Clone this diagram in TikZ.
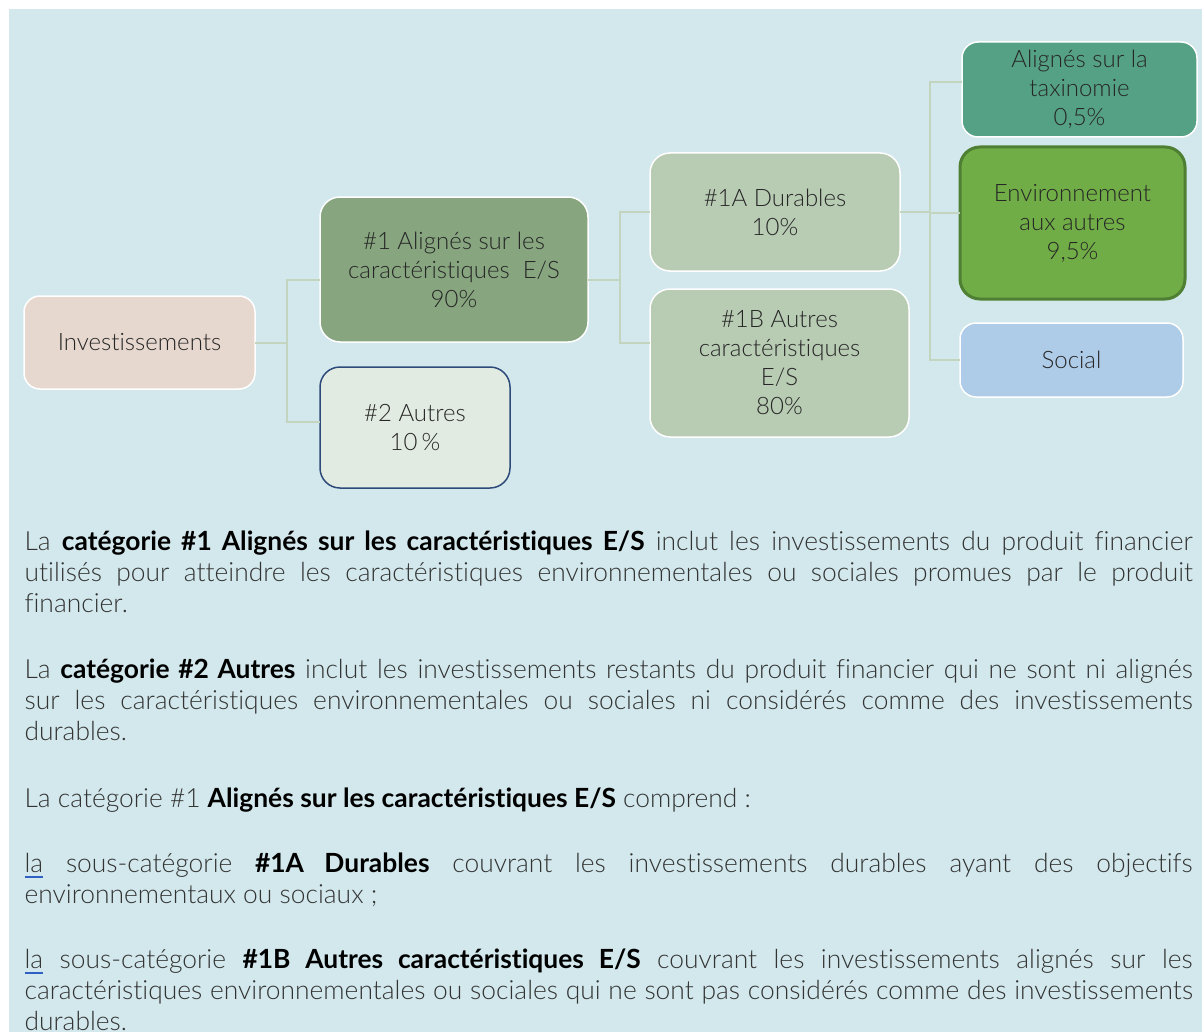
\documentclass[tikz,border=0pt]{standalone}
\usepackage{fontspec}
\setmainfont{Lato}[UprightFont=* Light, BoldFont=* Bold, Ligatures=NoCommon]
\usepackage{tikz}

\definecolor{bgblue}{HTML}{D2E8EC}
\definecolor{linkgreen}{HTML}{C3D5BE}
\definecolor{boxtext}{HTML}{262626}
\definecolor{bodygray}{HTML}{333333}
\definecolor{lablue}{HTML}{2F5FC4}
\definecolor{invfill}{HTML}{E6D8CE}
\definecolor{esfill}{HTML}{87A67F}
\definecolor{autfill}{HTML}{E2EBE2}
\definecolor{autline}{HTML}{2E4A7A}
\definecolor{subfill}{HTML}{B8CBB3}
\definecolor{taxfill}{HTML}{55A185}
\definecolor{envfill}{HTML}{70AD47}
\definecolor{envline}{HTML}{4E7F32}
\definecolor{socfill}{HTML}{AECBE8}

\newsavebox\labox
\newcommand\ula{\sbox\labox{la}\rlap{\textcolor{lablue}{\rule[-2.8pt]{\wd\labox}{0.8pt}}}\usebox\labox}

\begin{document}
\begin{tikzpicture}[x=0.5pt,y=-0.5pt,semithick]
		\tikzstyle{box}=[draw=white,line width=0.75pt,rounded corners=8pt,align=center,
			text=boxtext,outer sep=0pt,inner sep=2pt,font=\fontsize{12}{14.5}\selectfont]
		\tikzstyle{link}=[draw=linkgreen,line width=1pt]
		\tikzstyle{para}=[anchor=base west,text width=584pt,align=justify,inner sep=0pt,
			text=bodygray,font=\fontsize{13.2}{15.5}\selectfont,
			execute at begin node={\tolerance=10000\hyphenpenalty=10000}]

		\useasboundingbox (0,0) rectangle (1202,1032);
		\fill[bgblue] (9,9) rectangle (1202,1032);

		\node[box,fill=invfill,minimum width=115.5pt,minimum height=46.5pt] (Inv) at (139.5,342.5) {Investissements};
		\node[box,fill=esfill,minimum width=134pt,minimum height=72.5pt,rounded corners=10pt] (C1) at (454,269.5)
			{\#1 Alignés sur les\\caractéristiques~~E/S\\90\%};
		\node[box,draw=autline,fill=autfill,minimum width=95pt,minimum height=60.5pt,rounded corners=10pt] (C2) at (415,427.5)
			{\#2 Autres\\10\,\%};
		\node[box,fill=subfill,minimum width=125pt,minimum height=59pt,rounded corners=10pt] (C1A) at (775,212)
			{\#1A Durables\\10\%};
		\node[box,fill=subfill,minimum width=129.5pt,minimum height=74pt,rounded corners=10pt] (C1B) at (779.5,363)
			{\#1B Autres\\caractéristiques\\E/S\\80\%};
		\node[box,fill=taxfill,minimum width=117.5pt,minimum height=47.5pt] (Tax) at (1079.5,89.5)
			{Alignés sur la\\taxinomie\\0,5\%};
		\node[box,draw=envline,line width=1.5pt,fill=envfill,minimum width=112.5pt,minimum height=76pt,rounded corners=10pt] (Env) at (1072.5,223)
			{Environnement\\aux autres\\9,5\%};
		\node[box,fill=socfill,minimum width=111.5pt,minimum height=37pt] (Soc) at (1071.5,360) {Social};

		% connectors
		\draw[link] (Inv.east) -- ++(32,0) coordinate (t1) |- ([yshift=-5pt]C1.west);
		\draw[link] (t1) |- ([yshift=3pt]C2.west);
		\draw[link] ([yshift=-5pt]C1.east) -- ++(32,0) coordinate (t2) |- (C1A.west);
		\draw[link] (t2) |- ([yshift=10pt]C1B.west);
		\draw[link] (C1A.east) -- ++(30,0) coordinate (t3) |- ([yshift=3.75pt]Tax.west);
		\draw[link] (t3) |- ([yshift=5pt]Env.west);
		\draw[link] (t3) |- (Soc.west);

		% texte
		\node[para] (P1) at (24,550) {La \textbf{\color{black}catégorie \#1 Alignés sur les caractéristiques E/S} inclut les investissements du produit financier\linebreak
			utilisés pour atteindre les caractéristiques environnementales ou sociales promues par le produit\linebreak
			financier.};
		\node[para] (P2) at (24,678) {La \textbf{\color{black}catégorie \#2 Autres} inclut les investissements restants du produit financier qui ne sont ni alignés\linebreak
			sur les caractéristiques environnementales ou sociales ni considérés comme des investissements\linebreak
			durables.};
		\node[para] (P3) at (24,807) {La catégorie \#1 \textbf{\color{black}Alignés sur les caractéristiques E/S} comprend~:};
		\node[para] (P4) at (24,872) {\ula{} sous-catégorie \textbf{\color{black}\#1A Durables} couvrant les investissements durables ayant des objectifs\linebreak
			environnementaux ou sociaux~;};
		\node[para] (P5) at (24,968) {\ula{} sous-catégorie \textbf{\color{black}\#1B Autres caractéristiques E/S} couvrant les investissements alignés sur les\linebreak
			caractéristiques environnementales ou sociales qui ne sont pas considérés comme des investissements\linebreak
			durables.};
\end{tikzpicture}
\end{document}
